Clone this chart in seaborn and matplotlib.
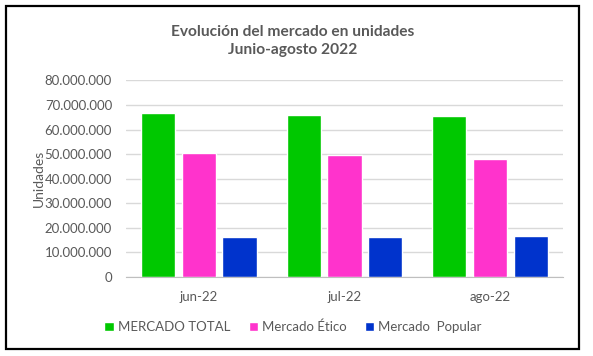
import pandas as pd
import matplotlib.pyplot as plt
import seaborn as sns
from matplotlib.patches import Rectangle
from matplotlib.ticker import FuncFormatter

# datos
meses = ["jun-22", "jul-22", "ago-22"]
series = ["MERCADO TOTAL", "Mercado Ético", "Mercado  Popular"]
mercado_total = [66700000, 66000000, 65600000]
mercado_etico = [50400000, 49600000, 47900000]
mercado_popular = [16400000, 16400000, 16800000]
colores = ["#00C800", "#FF33CC", "#0033CC"]

df = pd.DataFrame({
    "mes": meses * 3,
    "serie": [series[0]] * 3 + [series[1]] * 3 + [series[2]] * 3,
    "unidades": mercado_total + mercado_etico + mercado_popular,
})

sns.set_style("white")
plt.rcParams["font.family"] = ["Lato", "DejaVu Sans"]
gris = "#595959"

fig = plt.figure(figsize=(5.93, 3.56), dpi=100)
ax = fig.add_axes([0.2125, 0.222, 0.7365, 0.552])

sns.barplot(data=df, x="mes", y="unidades", hue="serie", palette=colores,
            saturation=1, width=0.84, gap=0.16, ax=ax, legend=True)

ax.set_ylim(0, 80000000)
ax.set_yticks(range(0, 80000001, 10000000))
ax.yaxis.set_major_formatter(FuncFormatter(lambda v, p: f"{int(v):,}".replace(",", ".")))
ax.grid(axis="y", color="#D9D9D9", linewidth=1)
ax.set_axisbelow(True)
for s in ["left", "right", "top"]:
    ax.spines[s].set_visible(False)
ax.spines["bottom"].set_color("#BFBFBF")
ax.set_xlim(-0.5, 2.5)
ax.set_xticks([-0.5, 0.5, 1.5, 2.5], minor=True)
ax.tick_params(axis="x", which="minor", length=4, color="#BFBFBF", direction="out")
ax.tick_params(axis="x", which="major", length=0, pad=10)
ax.tick_params(axis="y", length=0, pad=10)
ax.tick_params(labelsize=9.5, labelcolor=gris)
ax.set_xlabel("")
ax.set_ylabel("Unidades", fontsize=10, color=gris)
ax.yaxis.set_label_coords(-0.186, 0.5)

ax.legend(loc="center", ncol=3, frameon=False, fontsize=9.5, handlelength=0.7,
          handleheight=0.7, handletextpad=0.3, columnspacing=1.4, labelcolor=gris)
leg = ax.get_legend()
leg.set_bbox_to_anchor((0.494, 0.082), transform=fig.transFigure)

fig.text(0.494, 0.91, "Evolución del mercado en unidades", ha="center", va="center",
         fontsize=11.2, fontweight="bold", color=gris)
fig.text(0.494, 0.86, "Junio-agosto 2022", ha="center", va="center",
         fontsize=11.2, fontweight="bold", color=gris)

fig.patches.append(Rectangle((6 / 593, 1 - 349 / 356), 573 / 593, 343 / 356,
                             transform=fig.transFigure, fill=False,
                             edgecolor="black", linewidth=1.6))

fig.savefig("out.png", dpi=100)
